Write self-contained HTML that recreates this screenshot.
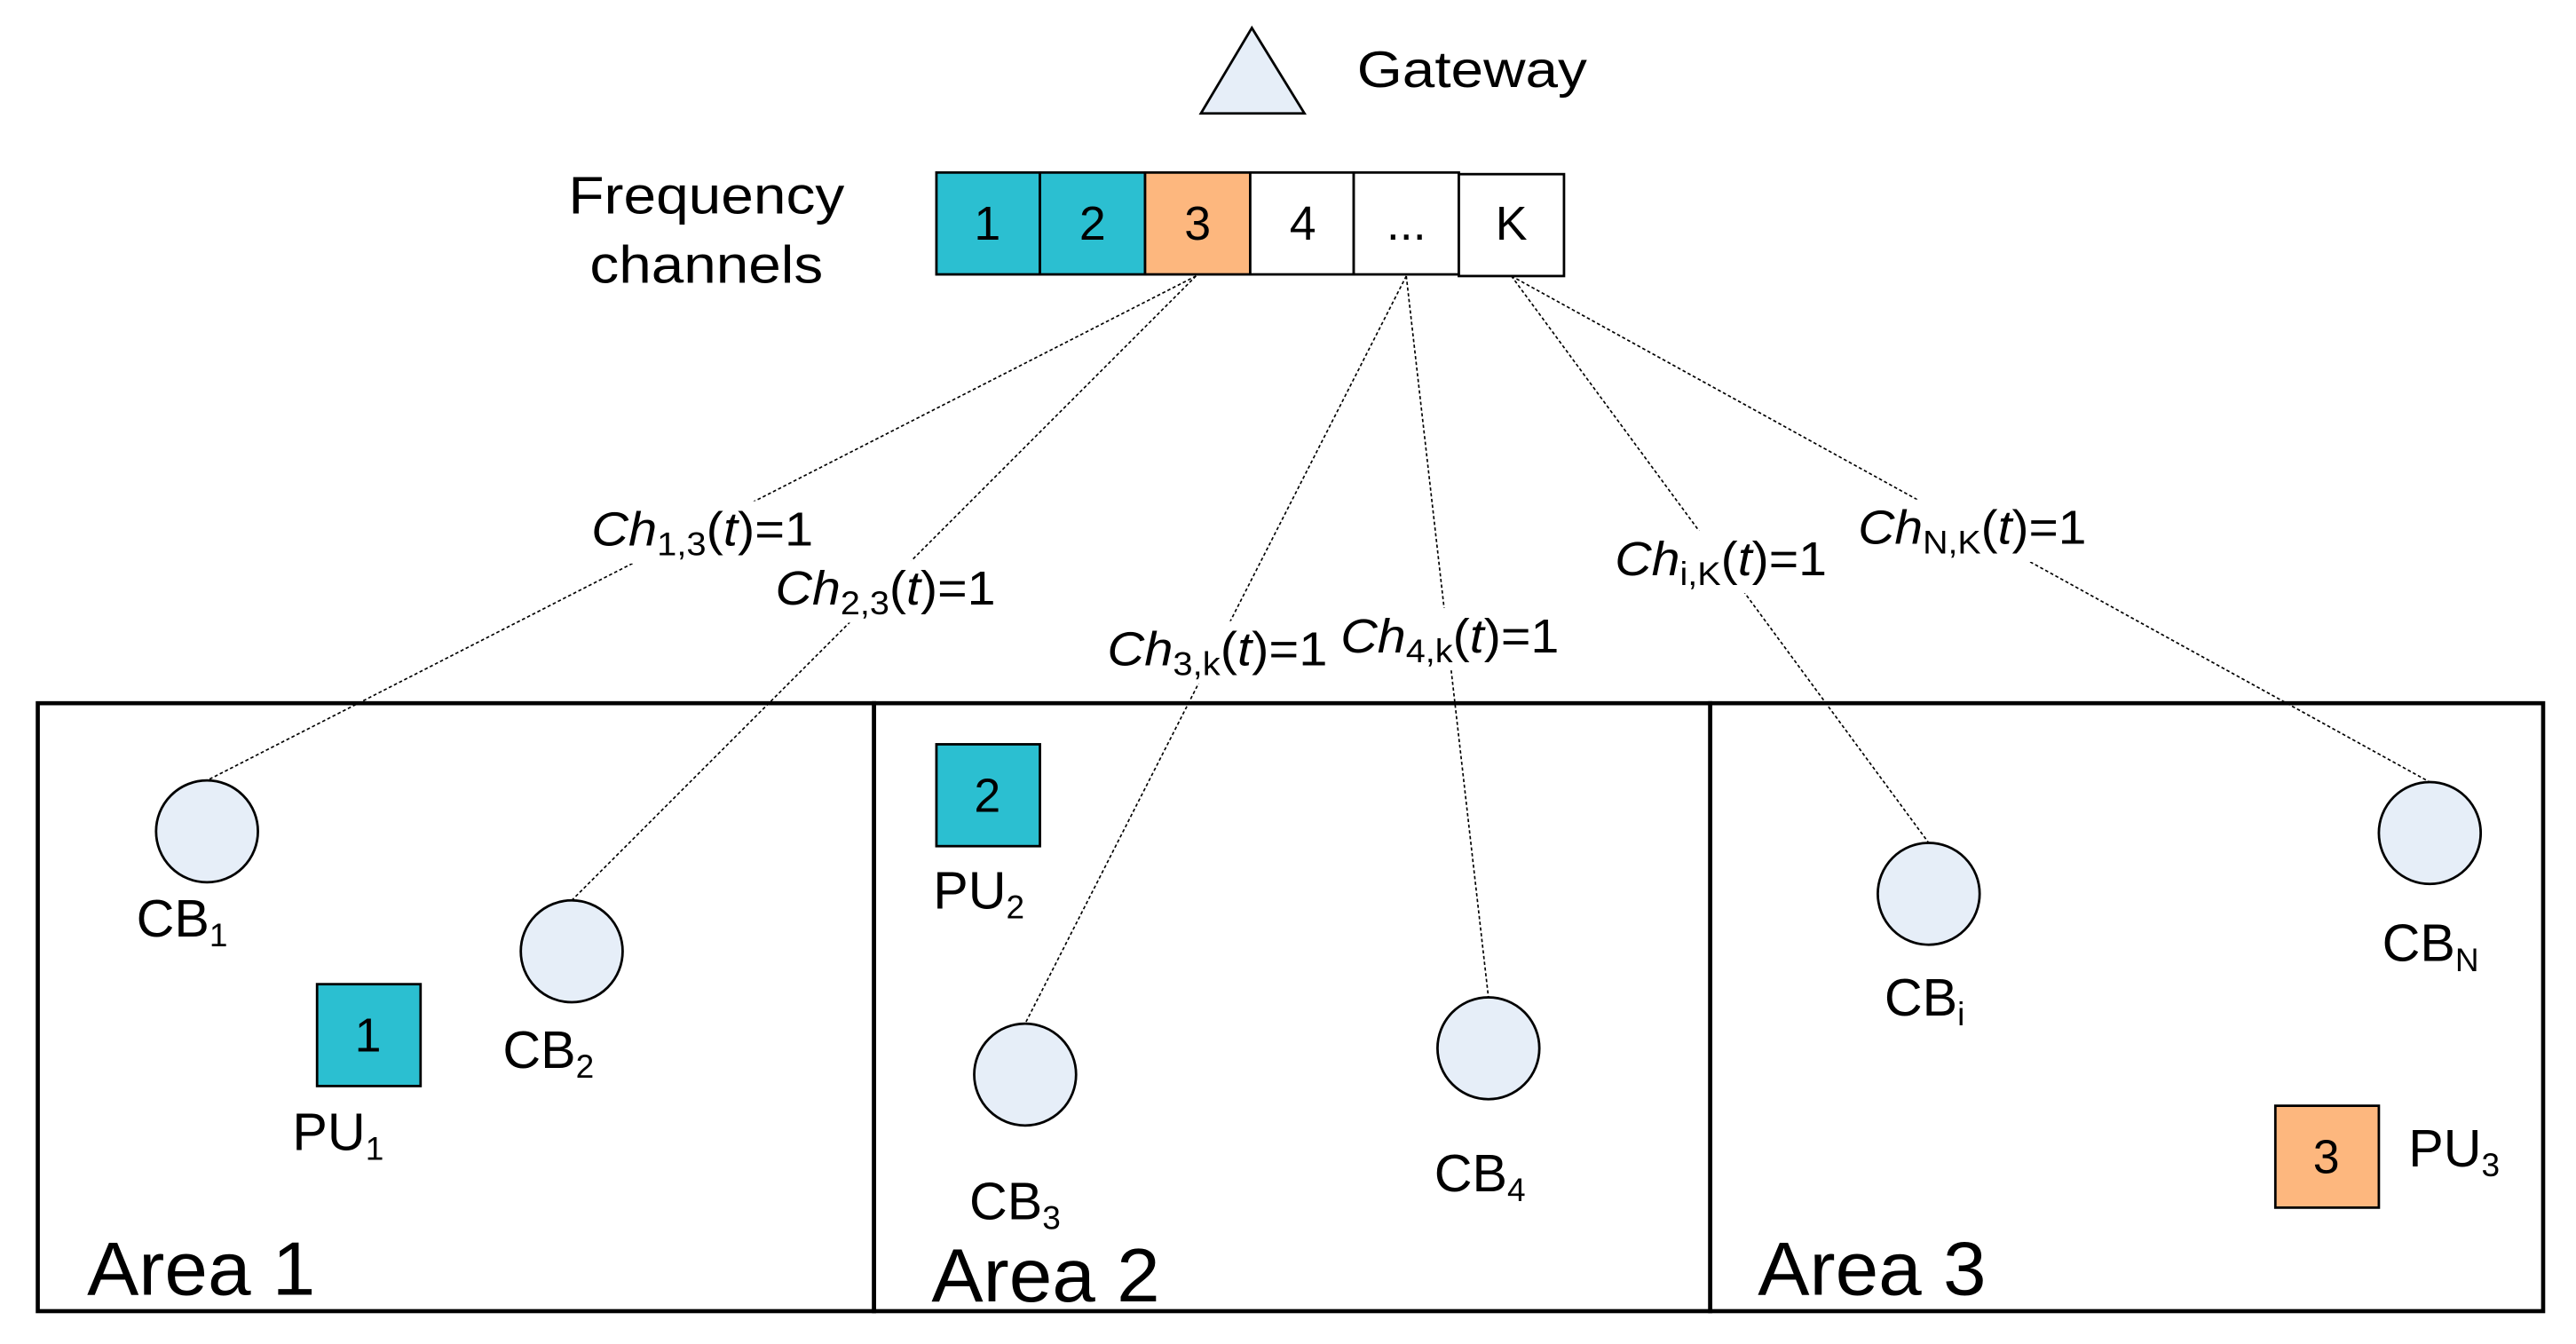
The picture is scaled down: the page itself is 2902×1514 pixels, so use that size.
<!DOCTYPE html>
<html><head><meta charset="utf-8"><style>html,body{margin:0;padding:0;background:#fff}svg{display:block}</style></head>
<body>
<svg width="2902" height="1514" viewBox="0 0 1568 818" preserveAspectRatio="none" xmlns="http://www.w3.org/2000/svg" font-family="Liberation Sans, sans-serif">
<polygon points="762,17 731,69 794,69" fill="#e6eef8" stroke="#000" stroke-width="1.5"/>
<text x="826" y="53" font-size="31" textLength="140" lengthAdjust="spacingAndGlyphs">Gateway</text>
<text x="346" y="130" font-size="32" textLength="168" lengthAdjust="spacingAndGlyphs">Frequency</text>
<text x="359" y="172" font-size="32" textLength="142" lengthAdjust="spacingAndGlyphs">channels</text>
<g stroke="#000" stroke-width="1.5">
<rect x="570" y="105" width="63" height="62" fill="#2bbfd1"/>
<rect x="633" y="105" width="64" height="62" fill="#2bbfd1"/>
<rect x="697" y="105" width="64" height="62" fill="#fdb77e"/>
<rect x="761" y="105" width="63" height="62" fill="#fff"/>
<rect x="824" y="105" width="64" height="62" fill="#fff"/>
<rect x="888" y="106" width="64" height="62" fill="#fff"/>
</g>
<g font-size="29" text-anchor="middle">
<text x="601" y="146">1</text><text x="665" y="146">2</text><text x="729" y="146">3</text><text x="793" y="146">4</text><text x="856" y="146">...</text><text x="920" y="146">K</text>
</g>
<g stroke="#000" stroke-width="0.9" stroke-dasharray="2,1.5" fill="none">
<line x1="728" y1="168" x2="126" y2="475"/>
<line x1="728" y1="168" x2="348" y2="548"/>
<line x1="856" y1="168" x2="624" y2="623"/>
<line x1="856" y1="168" x2="906" y2="607"/>
<line x1="920" y1="168" x2="1174" y2="513"/>
<line x1="920" y1="168" x2="1479" y2="476"/>
</g>
<g fill="#fff">
<rect x="356" y="305" width="143" height="38"/>
<rect x="468" y="341" width="142" height="38"/>
<rect x="670" y="378" width="142" height="38"/>
<rect x="812" y="370" width="141" height="38"/>
<rect x="979" y="323" width="137" height="38"/>
<rect x="1127" y="304" width="147" height="38"/>
</g>
<g font-size="29">
<text x="360" y="332" textLength="135" lengthAdjust="spacingAndGlyphs"><tspan font-style="italic">Ch</tspan><tspan font-size="20" dy="6">1,3</tspan><tspan dy="-6">(</tspan><tspan font-style="italic">t</tspan>)=1</text>
<text x="472" y="368" textLength="134" lengthAdjust="spacingAndGlyphs"><tspan font-style="italic">Ch</tspan><tspan font-size="20" dy="6">2,3</tspan><tspan dy="-6">(</tspan><tspan font-style="italic">t</tspan>)=1</text>
<text x="674" y="405" textLength="134" lengthAdjust="spacingAndGlyphs"><tspan font-style="italic">Ch</tspan><tspan font-size="20" dy="6">3,k</tspan><tspan dy="-6">(</tspan><tspan font-style="italic">t</tspan>)=1</text>
<text x="816" y="397" textLength="133" lengthAdjust="spacingAndGlyphs"><tspan font-style="italic">Ch</tspan><tspan font-size="20" dy="6">4,k</tspan><tspan dy="-6">(</tspan><tspan font-style="italic">t</tspan>)=1</text>
<text x="983" y="350" textLength="129" lengthAdjust="spacingAndGlyphs"><tspan font-style="italic">Ch</tspan><tspan font-size="20" dy="6">i,K</tspan><tspan dy="-6">(</tspan><tspan font-style="italic">t</tspan>)=1</text>
<text x="1131" y="331" textLength="139" lengthAdjust="spacingAndGlyphs"><tspan font-style="italic">Ch</tspan><tspan font-size="20" dy="6">N,K</tspan><tspan dy="-6">(</tspan><tspan font-style="italic">t</tspan>)=1</text>
</g>
<g stroke="#000" stroke-width="2.5" fill="none">
<rect x="23" y="428" width="509" height="370"/>
<rect x="532" y="428" width="509" height="370"/>
<rect x="1041" y="428" width="507" height="370"/>
</g>
<g stroke="#000" stroke-width="1.5">
<rect x="193" y="599" width="63" height="62" fill="#2bbfd1"/>
<rect x="570" y="453" width="63" height="62" fill="#2bbfd1"/>
<rect x="1385" y="673" width="63" height="62" fill="#fdb77e"/>
</g>
<g font-size="29" text-anchor="middle">
<text x="224" y="640">1</text><text x="601" y="494">2</text><text x="1416" y="714">3</text>
</g>
<g stroke="#000" stroke-width="1.5" fill="#e6eef8">
<circle cx="126" cy="506" r="31"/><circle cx="348" cy="579" r="31"/>
<circle cx="624" cy="654" r="31"/><circle cx="906" cy="638" r="31"/>
<circle cx="1174" cy="544" r="31"/><circle cx="1479" cy="507" r="31"/>
</g>
<g font-size="32">
<text x="83" y="570">CB<tspan font-size="20" dy="6">1</tspan></text>
<text x="306" y="650">CB<tspan font-size="20" dy="6">2</tspan></text>
<text x="178" y="700">PU<tspan font-size="20" dy="6">1</tspan></text>
<text x="568" y="553">PU<tspan font-size="20" dy="6">2</tspan></text>
<text x="590" y="742">CB<tspan font-size="20" dy="6">3</tspan></text>
<text x="873" y="725">CB<tspan font-size="20" dy="6">4</tspan></text>
<text x="1147" y="618">CB<tspan font-size="20" dy="6">i</tspan></text>
<text x="1450" y="585">CB<tspan font-size="20" dy="6">N</tspan></text>
<text x="1466" y="710">PU<tspan font-size="20" dy="6">3</tspan></text>
</g>
<g font-size="46">
<text x="53" y="788" textLength="139" lengthAdjust="spacingAndGlyphs">Area 1</text>
<text x="567" y="792" textLength="139" lengthAdjust="spacingAndGlyphs">Area 2</text>
<text x="1070" y="788" textLength="139" lengthAdjust="spacingAndGlyphs">Area 3</text>
</g>
</svg>
</body></html>
